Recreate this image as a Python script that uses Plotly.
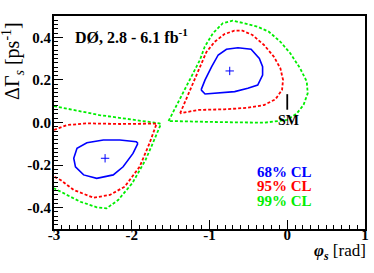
import plotly.graph_objects as go

# ---- data (phi_s [rad], DeltaGamma_s [ps^-1]) ----
blue_up_x = [-1.108, -1.057, -0.972, -0.888, -0.782, -0.634, -0.465, -0.359, -0.317, -0.317, -0.380, -0.507, -0.676, -0.888, -1.057, -1.108]
blue_up_y = [0.153, 0.200, 0.262, 0.317, 0.344, 0.351, 0.344, 0.301, 0.262, 0.223, 0.176, 0.161, 0.145, 0.137, 0.134, 0.153]
red_up_x = [-1.378, -1.146, -1.041, -0.934, -0.807, -0.680, -0.575, -0.448, -0.299, -0.172, -0.088, -0.054, -0.067, -0.152, -0.299, -0.511, -0.807, -1.146, -1.378]
red_up_y = [0.043, 0.238, 0.330, 0.379, 0.415, 0.431, 0.431, 0.411, 0.364, 0.309, 0.254, 0.200, 0.153, 0.109, 0.082, 0.069, 0.062, 0.059, 0.043]
green_up_x = [-1.527, -1.124, -1.061, -0.956, -0.829, -0.702, -0.553, -0.384, -0.236, -0.088, 0.039, 0.166, 0.251, 0.263, 0.209, 0.124, -0.003, -0.299, -0.892, -1.527]
green_up_y = [0.007, 0.293, 0.356, 0.419, 0.466, 0.478, 0.466, 0.450, 0.426, 0.379, 0.325, 0.254, 0.192, 0.137, 0.082, 0.043, 0.012, -0.001, 0.002, 0.007]

blue_lo_x = [-1.921, -1.984, -2.111, -2.238, -2.450, -2.619, -2.724, -2.746, -2.704, -2.577, -2.365, -2.153, -1.942, -1.921]
blue_lo_y = [-0.098, -0.145, -0.208, -0.246, -0.262, -0.246, -0.208, -0.168, -0.121, -0.095, -0.082, -0.082, -0.090, -0.098]
red_lo_x = [-3.0, -2.831, -2.577, -2.153, -1.680, -1.772, -1.899, -2.090, -2.280, -2.492, -2.746, -2.915, -3.0]
red_lo_y = [-0.035, -0.012, -0.004, -0.007, -0.005, -0.098, -0.208, -0.301, -0.340, -0.353, -0.317, -0.270, -0.254]
green_lo_x = [-3.0, -2.416, -1.645, -1.625, -1.730, -1.823, -1.993, -2.175, -2.323, -2.450, -2.661, -2.831, -2.958, -3.0]
green_lo_y = [0.077, 0.035, -0.004, -0.007, -0.098, -0.176, -0.285, -0.364, -0.403, -0.398, -0.372, -0.340, -0.314, -0.309]

best_x = [-0.740, -2.343]
best_y = [0.242, -0.168]

sm_x = [0.0, 0.0]
sm_y = [0.060, 0.133]

x_ticks = [-3, -2, -1, 0, 1]
y_ticks = [-0.4, -0.2, 0.0, 0.2, 0.4]
y_ticklabels = ["-0.4", "-0.2", "0.0", "0.2", "0.4"]

BLUE = "#0000ff"
RED = "#ff0000"
GREEN = "#00ee00"
SERIF = "Liberation Serif"

fig = go.Figure()

def add(x, y, color, dash):
    fig.add_trace(go.Scatter(x=x, y=y, mode="lines",
                             line=dict(color=color, width=1.6 if dash == "solid" else 1.8, dash=dash),
                             hoverinfo="skip", showlegend=False))

add(green_up_x, green_up_y, GREEN, "3px,2px")
add(green_lo_x, green_lo_y, GREEN, "3px,2px")
add(red_up_x, red_up_y, RED, "3px,2px")
add(red_lo_x, red_lo_y, RED, "3px,2px")
add(blue_up_x, blue_up_y, BLUE, "solid")
add(blue_lo_x, blue_lo_y, BLUE, "solid")

fig.add_trace(go.Scatter(x=best_x, y=best_y, mode="markers",
                         marker=dict(symbol="cross-thin", size=6, line=dict(color=BLUE, width=1)),
                         showlegend=False, hoverinfo="skip"))
fig.add_trace(go.Scatter(x=sm_x, y=sm_y, mode="lines",
                         line=dict(color="black", width=1.8),
                         showlegend=False, hoverinfo="skip"))

axis_common = dict(showgrid=False, zeroline=False, showline=True, linecolor="black", linewidth=2,
                   mirror=True, ticks="inside", ticklen=9, tickwidth=1, tickcolor="black",
                   tickfont=dict(family=SERIF, size=15, color="black", weight="bold"))

fig.update_xaxes(range=[-3, 1], tickvals=x_ticks, ticktext=[str(v) for v in x_ticks],
                 ticklabelstandoff=-9,
                 minor=dict(dtick=0.1, ticklen=4, tickcolor="black", ticks="inside", showgrid=False),
                 **axis_common)
fig.update_yaxes(range=[-0.5, 0.5], tickvals=y_ticks, ticktext=y_ticklabels,
                 ticklabelstandoff=-2,
                 minor=dict(dtick=0.02, ticklen=4, tickcolor="black", ticks="inside", showgrid=False),
                 **axis_common)

ann = [
    dict(text="<b>DØ, 2.8 - 6.1 fb<sup>-1</sup></b>", xref="paper", yref="paper", x=0.06, y=0.905,
         xanchor="left", yanchor="middle", showarrow=False, font=dict(family=SERIF, size=16, color="black")),
    dict(text="<b>68% CL</b>", xref="paper", yref="paper", x=0.74, y=0.269, xanchor="center", yanchor="middle",
         showarrow=False, font=dict(family=SERIF, size=15, color=BLUE)),
    dict(text="<b>95% CL</b>", xref="paper", yref="paper", x=0.74, y=0.200, xanchor="center", yanchor="middle",
         showarrow=False, font=dict(family=SERIF, size=15, color=RED)),
    dict(text="<b>99% CL</b>", xref="paper", yref="paper", x=0.74, y=0.132, xanchor="center", yanchor="middle",
         showarrow=False, font=dict(family=SERIF, size=15, color=GREEN)),
    dict(text="<b>SM</b>", xref="x", yref="y", x=0.022, y=0.008, xanchor="center", yanchor="middle",
         showarrow=False, font=dict(family=SERIF, size=14, color="black")),
    dict(text="ΔΓ<sub><i>s</i></sub> [ps<sup>-1</sup>]", xref="paper", yref="paper", x=0, y=0.789,
         xshift=-41, xanchor="center", yanchor="middle", textangle=-90, showarrow=False,
         font=dict(family=SERIF, size=20, color="black")),
    dict(text="<b><i>φ</i></b><sub><b><i>s</i></b></sub> [rad]", xref="paper", yref="paper", x=1.0, y=0,
         xanchor="right", yanchor="middle", xshift=3, yshift=-23, showarrow=False,
         font=dict(family=SERIF, size=17, color="black")),
]

fig.update_layout(width=374, height=273, margin=dict(l=54, r=5, t=16, b=44),
                  plot_bgcolor="white", paper_bgcolor="white", annotations=ann, showlegend=False)

# remove the browser's default 8px body margin so the figure fills the window exactly
fig.write_html("out.html", config={"displayModeBar": False},
               post_script="document.body.style.margin='0px';")
